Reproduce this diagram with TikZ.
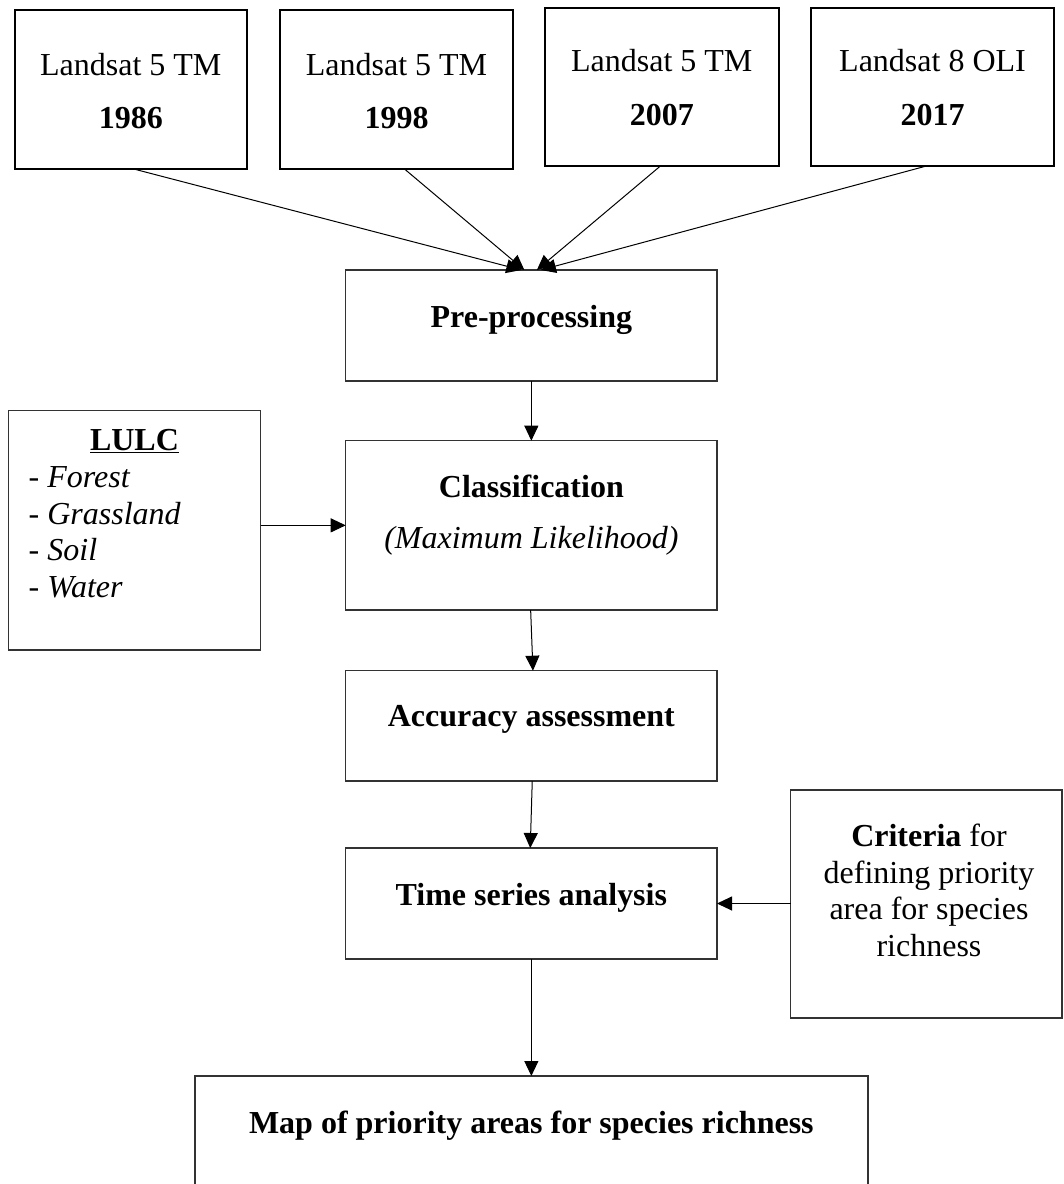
\documentclass[tikz,border=0pt]{standalone}
\usepackage{fontspec}
\setmainfont{Liberation Serif}
\usetikzlibrary{arrows.meta}

\begin{document}
\begin{tikzpicture}[x=1pt,y=-1pt,
  every node/.style={inner sep=0pt, outer sep=0pt},
  satbox/.style={draw=black, line width=2pt, rectangle},
  stepbox/.style={draw=black!80, line width=1.4pt, rectangle},
  txt/.style={anchor=base, font=\fontsize{32}{36}\selectfont},
  ltxt/.style={anchor=base west, font=\fontsize{32}{36}\selectfont},
  link/.style={line width=1pt, draw=black, -{Triangle[length=15pt,width=14pt]}}
]
\useasboundingbox (0,0) rectangle (1064,1184);
\clip (0,0) rectangle (1064,1184);
\fill[white] (0,0) rectangle (1064,1184);

% --- image sources ---
\node[satbox, minimum width=232.5pt, minimum height=159pt] (b1) at (130.75,89.5) {};
\node[satbox, minimum width=233pt,   minimum height=159pt] (b2) at (396.5,89.5) {};
\node[satbox, minimum width=233.5pt, minimum height=157.4pt] (b3) at (661.75,87) {};
\node[satbox, minimum width=243pt,   minimum height=157.4pt] (b4) at (932.5,87) {};

\node[txt] (b1a) at (130.75,75) {Landsat 5 TM};
\node[txt] (b1b) at (130.75,128.3) {\textbf{1986}};
\node[txt] (b2a) at (396.5,75) {Landsat 5 TM};
\node[txt] (b2b) at (396.5,128.3) {\textbf{1998}};
\node[txt] (b3a) at (661.75,71.7) {Landsat 5 TM};
\node[txt] (b3b) at (661.75,125) {\textbf{2007}};
\node[txt] (b4a) at (932.5,71.7) {Landsat 8 OLI};
\node[txt] (b4b) at (932.5,125) {\textbf{2017}};

% --- processing chain ---
\node[stepbox, minimum width=371.3pt, minimum height=111pt]   (pre) at (531.35,325.5) {};
\node[stepbox, minimum width=371.3pt, minimum height=169.3pt] (cls) at (531.35,525.35) {};
\node[stepbox, minimum width=371.3pt, minimum height=110.3pt] (acc) at (531.35,725.85) {};
\node[stepbox, minimum width=371.3pt, minimum height=111pt]   (ts)  at (531.35,903.5) {};
\node[stepbox, minimum width=673pt,   minimum height=116pt]   (map) at (531.35,1134) {};

\node[txt] (pret) at (531.35,327) {\textbf{Pre-processing}};
\node[txt] (clst) at (531.35,497) {\textbf{Classification}};
\node[txt] (clsm) at (531.35,548) {\textit{(Maximum Likelihood)}};
\node[txt] (acct) at (531.35,726.7) {\textbf{Accuracy assessment}};
\node[txt] (tst)  at (531.35,905) {\textbf{Time series analysis}};
\node[txt] (mapt) at (531.35,1133) {\textbf{Map of priority areas for species richness}};

% --- side inputs ---
\node[stepbox, minimum width=252.2pt, minimum height=239.3pt] (lulc) at (134.5,530.4) {};
\node[txt]  (lulct) at (134.5,450) {\textbf{\underline{LULC}}};
\node[ltxt] (lulc1) at (28.7,487.3) {- \textit{Forest}};
\node[ltxt] (lulc2) at (28.7,524) {- \textit{Grassland}};
\node[ltxt] (lulc3) at (28.7,560.7) {- \textit{Soil}};
\node[ltxt] (lulc4) at (28.7,597.4) {- \textit{Water}};

\node[stepbox, minimum width=271.3pt, minimum height=228pt] (crit) at (926.35,904) {};
\node[txt] (crit1) at (929,846.5) {\textbf{Criteria} for};
\node[txt] (crit2) at (929,883.2) {defining priority};
\node[txt] (crit3) at (929,919.9) {area for species};
\node[txt] (crit4) at (929,956.6) {richness};

% --- connectors ---
\draw[link] ([xshift=3pt]b1.south)  -- ([xshift=-10pt]pre.north);
\draw[link] ([xshift=8pt]b2.south)  -- ([xshift=-7pt]pre.north);
\draw[link] ([xshift=-1pt]b3.south) -- ([xshift=5.5pt]pre.north);
\draw[link] ([xshift=-5pt]b4.south) -- ([xshift=9.5pt]pre.north);

\draw[link] (pre.south) -- (cls.north);
\draw[link] ([xshift=-0.7pt]cls.south) -- ([xshift=1.6pt]acc.north);
\draw[link] ([xshift=0.9pt]acc.south) -- ([xshift=-1.1pt]ts.north);
\draw[link] (ts.south) -- (map.north);

\draw[link] (lulc.east |- cls.west) -- (cls.west);
\draw[link] (crit.west |- ts.east) -- (ts.east);
\end{tikzpicture}
\end{document}
